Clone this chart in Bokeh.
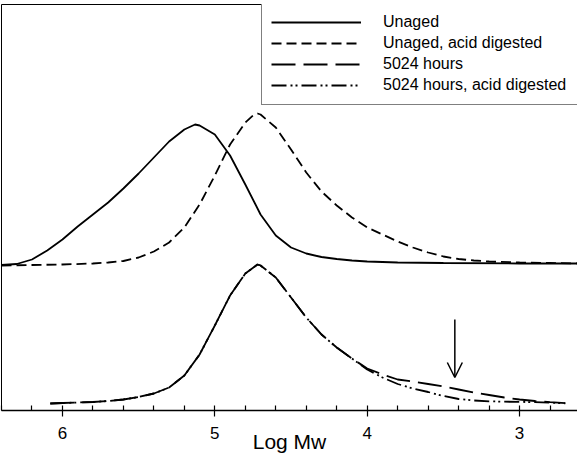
from bokeh.plotting import figure
from bokeh.models import (Range1d, SingleIntervalTicker, FixedTicker, LinearAxis,
                          Legend, LegendItem, Arrow, OpenHead)
from bokeh.embed import file_html
from bokeh.resources import INLINE

# ---------------- data (Log Mw vs detector response, arbitrary units) ----------------
unaged_x = [6.4, 6.3, 6.2, 6.1, 6.0, 5.9, 5.8, 5.7, 5.6, 5.5, 5.4, 5.3, 5.2, 5.13, 5.1,
            5.0, 4.9, 4.8, 4.7, 4.6, 4.5, 4.4, 4.3, 4.2, 4.1, 4.0, 3.8, 3.5, 3.0, 2.6]
unaged_y = [145.5, 146.5, 151, 160, 171, 184, 196, 208, 222, 237, 253, 269, 281, 286, 285,
            276, 255, 226, 196, 175, 163, 157, 153.5, 151.5, 150, 149, 148, 147.5, 147, 147]

unaged_acid_x = [6.4, 6.2, 6.0, 5.8, 5.7, 5.6, 5.5, 5.4, 5.3, 5.2, 5.1, 5.0, 4.9, 4.8, 4.75,
                 4.72, 4.7, 4.6, 4.5, 4.4, 4.3, 4.2, 4.1, 4.0, 3.9, 3.8, 3.7, 3.6, 3.5, 3.4,
                 3.3, 3.2, 3.0, 2.8, 2.6]
unaged_acid_y = [145, 145.5, 146, 147, 148, 149.5, 153, 159, 168, 183, 206, 235, 266, 288, 295,
                 297, 296, 283, 261, 238, 219, 205, 193, 183, 176, 169, 163, 158, 154, 151.5,
                 150, 149, 148, 147.5, 147]

hours_x = [6.08, 6.0, 5.9, 5.8, 5.7, 5.6, 5.5, 5.4, 5.3, 5.2, 5.1, 5.0, 4.9, 4.8, 4.72, 4.7,
           4.6, 4.5, 4.4, 4.3, 4.2, 4.1, 4.0, 3.9, 3.8, 3.7, 3.6, 3.5, 3.4, 3.3, 3.2, 3.1,
           3.0, 2.9, 2.8, 2.7]
hours_y = [7, 7.5, 8, 8.5, 9.5, 11, 13.5, 17, 23, 35, 56, 85, 115, 137, 146, 145,
           133, 113, 93, 76, 63, 52, 42, 36, 31, 29, 26.5, 24, 21, 18, 15.5, 13,
           11, 9.5, 8.3, 7.3]

hours_acid_x = [6.08, 6.0, 5.9, 5.8, 5.7, 5.6, 5.5, 5.4, 5.3, 5.2, 5.1, 5.0, 4.9, 4.8, 4.72, 4.7,
                4.6, 4.5, 4.4, 4.3, 4.2, 4.1, 4.0, 3.9, 3.8, 3.7, 3.6, 3.5, 3.4, 3.3, 3.2, 3.1,
                3.0, 2.9, 2.8, 2.7]
hours_acid_y = [7, 7.5, 8, 8.5, 9.5, 11, 13.5, 17, 23, 35, 56, 85, 115, 137, 146, 145,
                133, 113, 93, 76, 63, 52, 41, 33, 26.5, 22, 18.5, 14.5, 11.5, 10, 9.2, 8.8,
                8.6, 8.3, 7.8, 7.2]

series_labels = ["Unaged", "Unaged, acid digested", "5024 hours", "5024 hours, acid digested"]
arrow_x = 3.425
arrow_top = 91
arrow_tip = 33

FONT = "Liberation Sans"

p = figure(width=577, height=455, output_backend="svg", toolbar_location=None,
           x_range=Range1d(6.40, 2.62), y_range=Range1d(0, 406),
           min_border_left=1, min_border_right=0, min_border_top=4, min_border_bottom=45)
p.outline_line_color = None
p.xgrid.visible = False
p.ygrid.visible = False
p.background_fill_color = "white"
p.border_fill_color = "white"

# left axis: just a line
ya = p.left[0]
ya.ticker = FixedTicker(ticks=[])
ya.axis_line_color = "black"
ya.axis_line_width = 1
ya.major_tick_out = 0
ya.minor_tick_out = 0
ya.major_label_text_font_size = "0px"

# bottom axis
xa = p.below[0]
xa.ticker = SingleIntervalTicker(interval=1, num_minor_ticks=5)
xa.axis_label = "Log Mw"
xa.axis_label_text_font = FONT
xa.axis_label_text_font_size = "21px"
xa.axis_label_text_font_style = "normal"
xa.axis_label_text_color = "black"
xa.axis_label_standoff = -12
xa.major_label_text_font = FONT
xa.major_label_text_font_size = "17px"
xa.major_label_text_color = "black"
xa.major_label_standoff = 10
xa.axis_line_color = "black"
xa.axis_line_width = 1.5
xa.major_tick_line_color = "black"
xa.major_tick_line_width = 1.2
xa.major_tick_in = 0
xa.major_tick_out = 6
xa.minor_tick_line_color = "black"
xa.minor_tick_line_width = 1.2
xa.minor_tick_in = 5
xa.minor_tick_out = 0

# top frame line
top = LinearAxis(ticker=FixedTicker(ticks=[]), major_tick_out=0, minor_tick_out=0,
                 major_label_text_font_size="0px", axis_line_color="black", axis_line_width=1)
p.add_layout(top, "above")

LW = 1.8
r1 = p.line(unaged_x, unaged_y, line_color="black", line_width=LW)
r2 = p.line(unaged_acid_x, unaged_acid_y, line_color="black", line_width=LW, line_dash="10 5")
r3 = p.line(hours_x, hours_y, line_color="black", line_width=LW, line_dash="24 8")
r4 = p.line(hours_acid_x, hours_acid_y, line_color="black", line_width=LW, line_dash="15 4 2 3 2 4")

p.add_layout(Arrow(end=OpenHead(size=15, line_width=1.5, line_color="black"),
                   x_start=arrow_x, y_start=arrow_top, x_end=arrow_x, y_end=arrow_tip,
                   line_width=1.5, line_color="black"))

legend = Legend(items=[LegendItem(label=series_labels[0], renderers=[r1]),
                       LegendItem(label=series_labels[1], renderers=[r2]),
                       LegendItem(label=series_labels[2], renderers=[r3]),
                       LegendItem(label=series_labels[3], renderers=[r4])],
                location=(260, 305), padding=9, spacing=1, margin=0,
                label_height=20, glyph_height=20, glyph_width=90, label_standoff=22,
                label_width=200,
                label_text_font=FONT, label_text_font_size="16px", label_text_color="black",
                border_line_color="black", border_line_width=1,
                background_fill_color="white", background_fill_alpha=1)
p.add_layout(legend)

open("out.html", "w").write(file_html(p, INLINE))
